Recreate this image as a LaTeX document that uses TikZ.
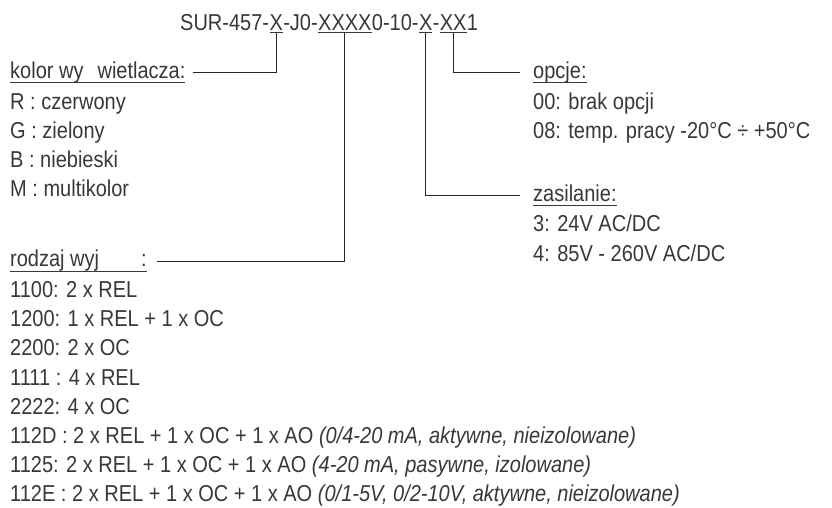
\documentclass[tikz,border=0pt]{standalone}
\usepackage{fontspec}
\setmainfont{Liberation Sans}[FakeStretch=0.87]
\usetikzlibrary{positioning}
% underline at a chosen depth
\newcommand{\undl}[2][-2pt]{\setbox0\hbox{#2}\rlap{\rule[#1]{\wd0}{1.2pt}}\box0}

\begin{document}
\begin{tikzpicture}[
  x=1pt, y=1pt,
  node distance=7.7pt,
  every node/.style={text=black!78, font=\fontsize{23}{28}\selectfont},
  piece/.style={inner sep=0pt, anchor=base west},
  row/.style={inner sep=0pt, text height=16pt, text depth=5pt},
  lead/.style={draw=black!85, line width=1pt, shorten >=7pt}
]
\useasboundingbox (0,0) rectangle (832,-508);

% ---- code line ----
\node (kod0) [piece] at (180,-31) {SUR-457-};
\node (kodKolor) [piece] at (kod0.base east) {\undl{X}};
\node (kod1) [piece] at (kodKolor.base east) {-J0-};
\node (kodWyj) [piece] at (kod1.base east) {\undl{XXXX}};
\node (kod2) [piece] at (kodWyj.base east) {0-10-};
\node (kodZas) [piece] at (kod2.base east) {\undl{X}};
\node (kod3) [piece] at (kodZas.base east) {-};
\node (kodOpc) [piece] at (kod3.base east) {\undl{XX}};
\node (kod4) [piece] at (kodOpc.base east) {1};

% ---- kolor ----
\node (kolor) [row, anchor=west] at (10,-72.8) {\undl[-5pt]{kolor wy\hspace{14pt}wietlacza:}};
\node (kol1) [row, below=9.5pt of kolor.south west, anchor=north west] {R : czerwony};
\node (kol2) [row, below=of kol1.south west, anchor=north west] {G : zielony};
\node (kol3) [row, below=of kol2.south west, anchor=north west] {B : niebieski};
\node (kol4) [row, below=of kol3.south west, anchor=north west] {M : multikolor};

% ---- rodzaj wyjsc ----
\node (wyjscia) [row, anchor=west] at (10,-261.3) {\undl[-5pt]{rodzaj wyj\hspace{42pt}:}};
\node (wyj1) [row, below=9.5pt of wyjscia.south west, anchor=north west] {1100: 2 x REL};
\node (wyj2) [row, below=of wyj1.south west, anchor=north west] {1200: 1 x REL + 1 x OC};
\node (wyj3) [row, below=of wyj2.south west, anchor=north west] {2200: 2 x OC};
\node (wyj4) [row, below=of wyj3.south west, anchor=north west] {1111 : 4 x REL};
\node (wyj5) [row, below=of wyj4.south west, anchor=north west] {2222: 4 x OC};
\node (wyj6) [row, below=of wyj5.south west, anchor=north west] {112D : 2 x REL + 1 x OC + 1 x AO \textit{(0/4-20 mA, aktywne, nieizolowane)}};
\node (wyj7) [row, below=of wyj6.south west, anchor=north west] {1125: 2 x REL + 1 x OC + 1 x AO \textit{(4-20 mA, pasywne, izolowane)}};
\node (wyj8) [row, below=of wyj7.south west, anchor=north west] {112E : 2 x REL + 1 x OC + 1 x AO \textit{(0/1-5V, 0/2-10V, aktywne, nieizolowane)}};

% ---- zasilanie ----
\node (zasilanie) [row, anchor=west] at (533,-195.5) {\undl[-5pt]{zasilanie:}};
\node (zas1) [row, below=9.5pt of zasilanie.south west, anchor=north west] {3: 24V AC/DC};
\node (zas2) [row, below=of zas1.south west, anchor=north west] {4: 85V - 260V AC/DC};

% ---- opcje ----
\node (opcje) [row, anchor=west] at (533,-72.8) {\undl[-5pt]{opcje:}};
\node (opc1) [row, below=9.5pt of opcje.south west, anchor=north west] {00: brak opcji};
\node (opc2) [row, below=of opc1.south west, anchor=north west] {08: temp. pracy -20°C ÷ +50°C};

% ---- leaders ----
\draw[lead] (kodKolor.south) |- (kolor.east);
\draw[lead, shorten >=10pt] (kodWyj.south) |- (wyjscia.east);
\draw[lead, shorten >=13pt] (kodZas.south) |- (zasilanie.west);
\draw[lead, shorten >=13pt] (kodOpc.south) |- (opcje.west);

\end{tikzpicture}
\end{document}
